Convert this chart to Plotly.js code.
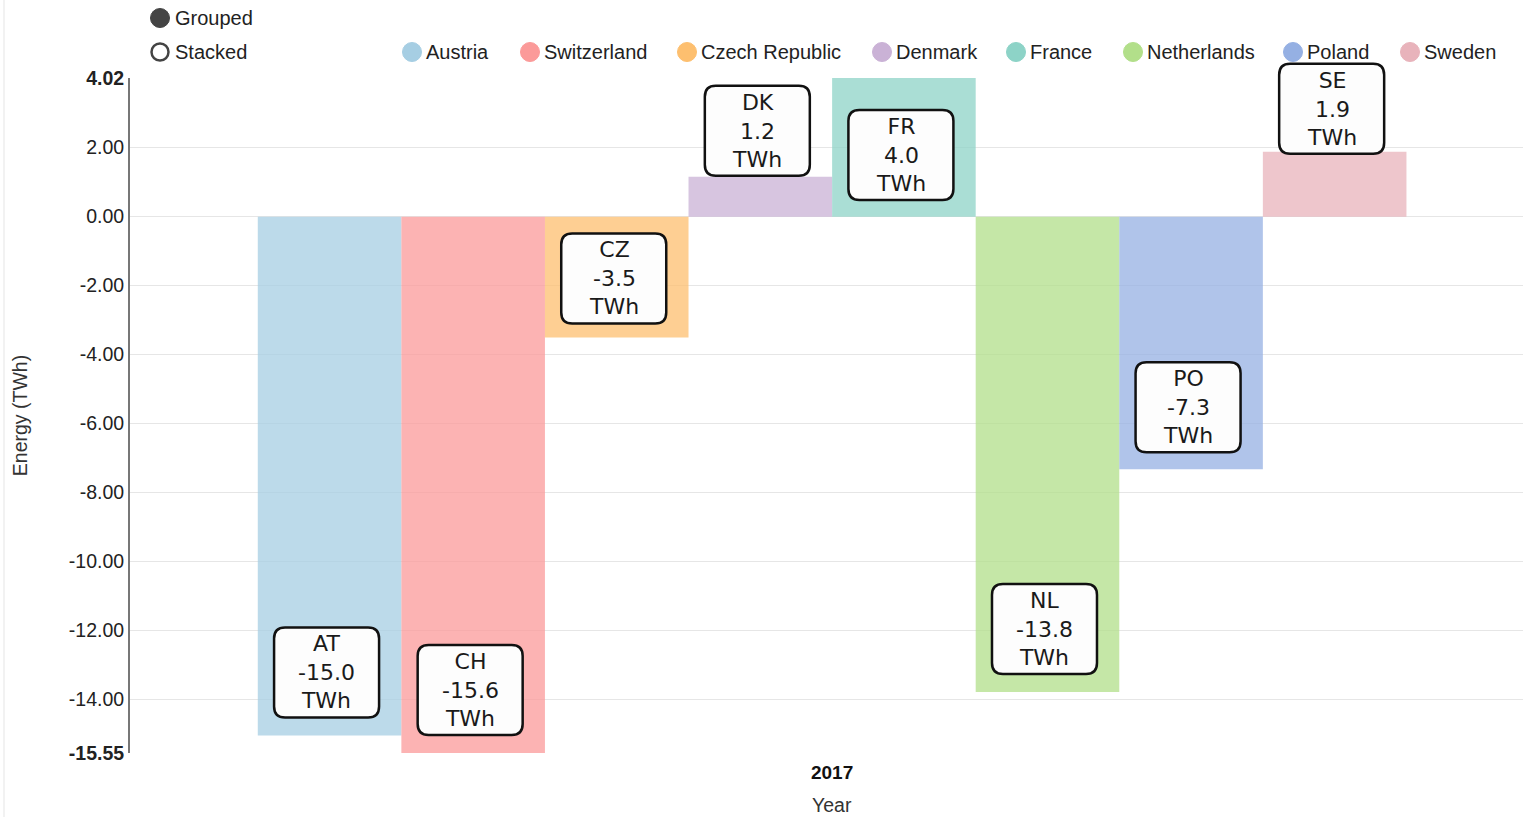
<!DOCTYPE html>
<html>
<head>
<meta charset="utf-8">
<script src="https://cdn.plot.ly/plotly-3.0.1.min.js"></script>
<style>html,body{margin:0;padding:0;background:#fff;}#chart{width:1523px;height:817px;}</style>
</head>
<body>
<div id="chart"></div>
<script>
// ---- data ----
const years = ['2017'];
const countries = ['Austria', 'Switzerland', 'Czech Republic', 'Denmark', 'France', 'Netherlands', 'Poland', 'Sweden'];
const codes = ['AT', 'CH', 'CZ', 'DK', 'FR', 'NL', 'PO', 'SE'];
const energy2017 = [-15.04, -15.55, -3.5, 1.16, 4.02, -13.78, -7.32, 1.88];
const yTickVals = [-15.55, -14, -12, -10, -8, -6, -4, -2, 0, 2, 4.02];
const controlLabels = ['Grouped', 'Stacked'];

// ---- styles ----
const colors = ['#a6cee3', '#fb9a99', '#fdbf6f', '#cab2d6', '#8dd3c7', '#b2df8a', '#95b0e3', '#e8b3bb'];
const FONT = 'Liberation Sans, Arial, sans-serif';
const W = 1523, H = 817;
const M = {l: 130, r: 0, t: 78, b: 64};
const PW = W - M.l - M.r, PH = H - M.t - M.b;
const bargap = 0.182;
const xRange = [-0.5, 0.492];
// pixel offset of label box bottom relative to bar end (positive = up)
const boxOffset = [18, 18, 14, 1, -122, 18, 17, -2];
const legendCircleX = [412, 530, 687, 882, 1016, 1133, 1293, 1410];

const px2x = p => (p - M.l) / PW;
const py2y = p => (H - M.b - p) / PH;

const yMin = Math.min(...yTickVals), yMax = Math.max(...yTickVals);
const d2px = x => (x - xRange[0]) / (xRange[1] - xRange[0]);
const d2py = y => (y - yMin) / (yMax - yMin);

const traces = countries.map((c, i) => ({
  type: 'bar',
  name: c,
  x: years.map((_, k) => k),
  y: [energy2017[i]],
  marker: {color: colors[i], opacity: 0.75, line: {width: 0}},
  showlegend: false,
  hovertemplate: c + ': %{y:.2f} TWh<extra></extra>'
}));

const n = countries.length;
const groupW = 1 - bargap;
const barCenter = i => -groupW / 2 + (i + 0.5) * groupW / n;

function roundRect(x0, y0, x1, y1, r) {
  return `M${x0 + r},${y0} L${x1 - r},${y0} Q${x1},${y0} ${x1},${y0 + r} ` +
         `L${x1},${y1 - r} Q${x1},${y1} ${x1 - r},${y1} L${x0 + r},${y1} ` +
         `Q${x0},${y1} ${x0},${y1 - r} L${x0},${y0 + r} Q${x0},${y0} ${x0 + r},${y0} Z`;
}

const shapes = [];
const annotations = [];
const BW = 105, BH = 90, XS = -3;

countries.forEach((c, i) => {
  const v = energy2017[i];
  const off = boxOffset[i];
  shapes.push({
    type: 'path', layer: 'above',
    xref: 'paper', yref: 'paper',
    xsizemode: 'pixel', ysizemode: 'pixel',
    xanchor: d2px(barCenter(i)), yanchor: d2py(v),
    path: roundRect(XS - BW / 2, off, XS + BW / 2, off + BH, 11),
    fillcolor: '#fdfdfd',
    line: {color: '#111', width: 2.5}
  });
  annotations.push({
    x: barCenter(i), y: v, xref: 'x', yref: 'y',
    xshift: XS, yshift: off + BH / 2,
    xanchor: 'center', yanchor: 'middle',
    showarrow: false,
    text: codes[i] + '<br>' + v.toFixed(1) + '<br>TWh',
    font: {family: 'DejaVu Sans, sans-serif', size: 22, color: '#1a1a1a'}
  });
  // legend
  shapes.push({
    type: 'circle', xref: 'paper', yref: 'paper',
    xsizemode: 'pixel', ysizemode: 'pixel',
    xanchor: px2x(legendCircleX[i]), yanchor: py2y(52),
    x0: -9.5, x1: 9.5, y0: -9.5, y1: 9.5,
    fillcolor: colors[i], line: {color: colors[i], width: 1}
  });
  annotations.push({
    x: px2x(legendCircleX[i] + 12), y: py2y(52), xref: 'paper', yref: 'paper',
    xanchor: 'left', yanchor: 'middle', showarrow: false,
    text: c, font: {family: FONT, size: 20, color: '#222'}
  });
});

// Grouped / Stacked controls
[18, 52].forEach((py, k) => {
  shapes.push({
    type: 'circle', xref: 'paper', yref: 'paper',
    xsizemode: 'pixel', ysizemode: 'pixel',
    xanchor: px2x(160), yanchor: py2y(py),
    x0: k === 0 ? -9.5 : -8.5, x1: k === 0 ? 9.5 : 8.5,
    y0: k === 0 ? -9.5 : -8.5, y1: k === 0 ? 9.5 : 8.5,
    fillcolor: k === 0 ? '#444' : 'rgba(0,0,0,0)',
    line: {color: '#444', width: k === 0 ? 1 : 2.5}
  });
  annotations.push({
    x: px2x(173), y: py2y(py), xref: 'paper', yref: 'paper',
    xanchor: 'left', yanchor: 'middle', showarrow: false,
    text: controlLabels[k], font: {family: FONT, size: 20, color: '#222'}
  });
});

// x-axis title, centred under the year group
annotations.push({
  x: 0, xref: 'x', y: py2y(805), yref: 'paper',
  xanchor: 'center', yanchor: 'middle', showarrow: false,
  text: 'Year', font: {family: FONT, size: 19.5, color: '#333'}
});

// faint container border on left
shapes.push({
  type: 'line', xref: 'paper', yref: 'paper',
  x0: px2x(4), x1: px2x(4), y0: py2y(0), y1: py2y(H),
  line: {color: '#eeeeee', width: 1.5}, layer: 'below'
});

const layout = {
  width: W, height: H,
  margin: M,
  paper_bgcolor: '#fff', plot_bgcolor: '#fff',
  barmode: 'group', bargap: bargap, bargroupgap: 0,
  showlegend: false,
  xaxis: {
    range: xRange,
    tickvals: years.map((_, k) => k),
    ticktext: years.map(y => '<b>' + y + '</b>'),
    showgrid: false, zeroline: false, showline: false, ticks: '',
    ticklabelstandoff: 6,
    tickfont: {family: FONT, size: 19, color: '#111'},
    fixedrange: true
  },
  yaxis: {
    range: [yMin, yMax],
    tickvals: yTickVals,
    ticktext: yTickVals.map(v => (v === yMin || v === yMax) ? '<b>' + v.toFixed(2) + '</b>' : v.toFixed(2)),
    showgrid: true, gridcolor: '#e6e6e6', gridwidth: 1.5,
    zeroline: false, showline: true, linecolor: '#777', linewidth: 2,
    ticks: '', ticklabelstandoff: 0,
    tickfont: {family: FONT, size: 19.5, color: '#222'},
    title: {text: 'Energy (TWh)', font: {family: FONT, size: 19.5, color: '#333'}, standoff: 36},
    fixedrange: true
  },
  shapes: shapes,
  annotations: annotations
};

Plotly.newPlot('chart', traces, layout, {displayModeBar: false, staticPlot: true});
</script>
</body>
</html>
